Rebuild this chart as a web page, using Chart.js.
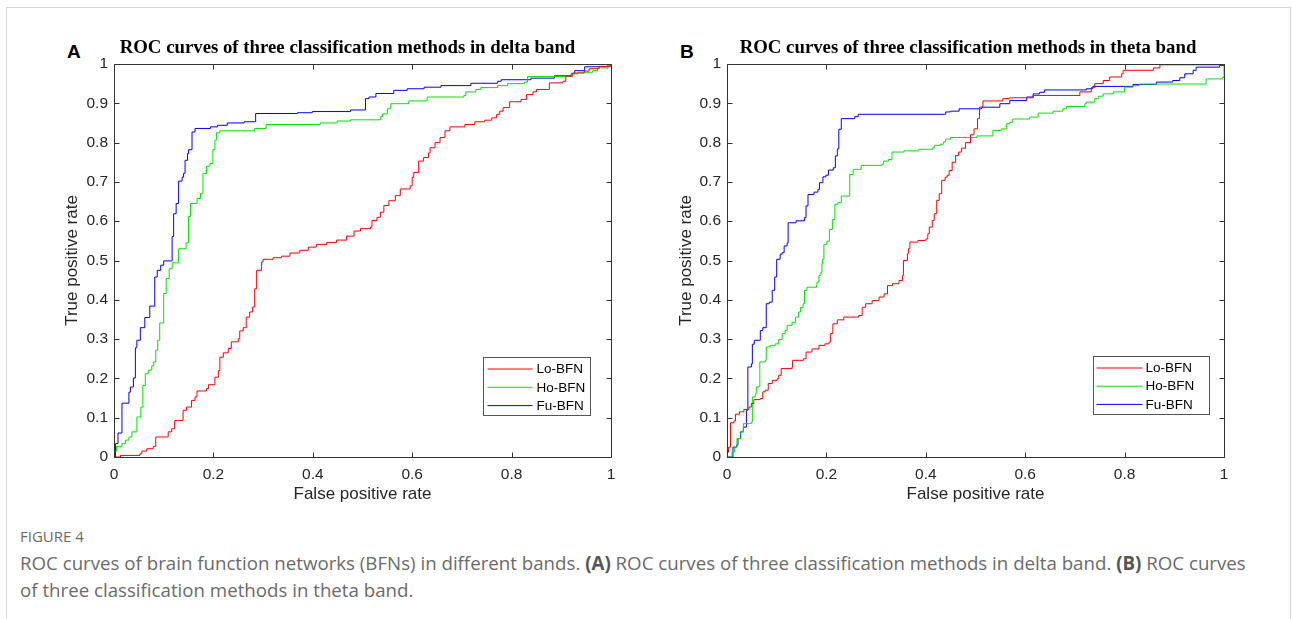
<!DOCTYPE html>
<html>
<head>
<meta charset="utf-8">
<script src="https://cdn.jsdelivr.net/npm/chart.js@4.4.1/dist/chart.umd.min.js"></script>
<style>
  body { margin: 0; background: #fff; overflow: hidden; }
  .frame { position: absolute; left: 6px; top: 7px; width: 1285px; height: 640px; border: 1px solid #d6d6d6; box-sizing: border-box; }
  .panel { position: absolute; }
  .letter { position: absolute; font: bold 19px "Liberation Sans", Arial, sans-serif; color: #000; }
  .fig { position: absolute; left: 20px; top: 526px; font: 15px "Open Sans", sans-serif; color: #6b6b6b; }
  .caption { position: absolute; left: 20px; top: 549px; font: 18.7px "Open Sans", sans-serif; line-height: 27px; color: #6b6b6b; white-space: nowrap; }
  .caption b { color: #555; }
</style>
</head>
<body>
<div class="frame"></div>
<div class="letter" style="left:67px; top:41px;">A</div>
<div class="letter" style="left:680px; top:41px;">B</div>
<div class="panel" style="left:30px; top:26px; width:635px; height:492px;"><canvas id="deltaChart"></canvas></div>
<div class="panel" style="left:650px; top:26px; width:636px; height:492px;"><canvas id="thetaChart"></canvas></div>
<div class="fig">FIGURE 4</div>
<div class="caption">ROC curves of brain function networks (BFNs) in different bands. <b>(A)</b> ROC curves of three classification methods in delta band. <b>(B)</b> ROC curves<br>of three classification methods in theta band.</div>

<script>
// ROC points: [false positive rate, true positive rate]
const methodNames = ['Lo-BFN', 'Ho-BFN', 'Fu-BFN'];
const lineColors = ['#ff0000', '#00e600', '#0000ff'];
const xTicks = [0, 0.2, 0.4, 0.6, 0.8, 1];
const yTicks = [0, 0.1, 0.2, 0.3, 0.4, 0.5, 0.6, 0.7, 0.8, 0.9, 1];

const deltaLo = [[0,0],[0.013,0.004],[0.052,0.008],[0.056,0.015],[0.066,0.021],[0.079,0.027],[0.084,0.051],[0.109,0.064],[0.116,0.072],[0.122,0.093],[0.139,0.119],[0.146,0.127],[0.156,0.144],[0.163,0.153],[0.167,0.168],[0.186,0.174],[0.190,0.184],[0.203,0.203],[0.210,0.220],[0.213,0.254],[0.220,0.265],[0.230,0.276],[0.236,0.293],[0.250,0.301],[0.253,0.321],[0.260,0.329],[0.266,0.356],[0.273,0.369],[0.279,0.382],[0.283,0.428],[0.287,0.475],[0.297,0.496],[0.300,0.503],[0.320,0.507],[0.337,0.511],[0.354,0.519],[0.374,0.526],[0.391,0.534],[0.407,0.541],[0.428,0.546],[0.448,0.552],[0.468,0.562],[0.483,0.575],[0.496,0.581],[0.516,0.585],[0.519,0.602],[0.529,0.610],[0.536,0.623],[0.543,0.640],[0.553,0.652],[0.566,0.665],[0.576,0.682],[0.596,0.690],[0.600,0.711],[0.603,0.724],[0.613,0.753],[0.623,0.762],[0.633,0.774],[0.636,0.787],[0.646,0.800],[0.656,0.813],[0.666,0.830],[0.676,0.840],[0.706,0.846],[0.726,0.853],[0.746,0.857],[0.760,0.863],[0.770,0.872],[0.776,0.880],[0.783,0.889],[0.796,0.904],[0.819,0.910],[0.830,0.922],[0.843,0.929],[0.850,0.935],[0.876,0.952],[0.903,0.956],[0.909,0.969],[0.923,0.977],[0.946,0.982],[0.956,0.988],[0.976,0.994],[1,1]];
const deltaHo = [[0,0],[0.001,0.015],[0.005,0.027],[0.016,0.034],[0.023,0.043],[0.030,0.051],[0.036,0.064],[0.046,0.102],[0.054,0.127],[0.058,0.182],[0.063,0.212],[0.069,0.221],[0.076,0.232],[0.080,0.242],[0.084,0.272],[0.088,0.297],[0.092,0.341],[0.100,0.416],[0.105,0.454],[0.111,0.479],[0.117,0.494],[0.130,0.530],[0.145,0.545],[0.150,0.612],[0.154,0.645],[0.167,0.658],[0.174,0.671],[0.179,0.721],[0.186,0.740],[0.193,0.747],[0.199,0.782],[0.203,0.806],[0.206,0.825],[0.213,0.830],[0.283,0.836],[0.306,0.846],[0.415,0.850],[0.449,0.855],[0.476,0.858],[0.536,0.866],[0.540,0.873],[0.550,0.886],[0.557,0.899],[0.593,0.906],[0.630,0.916],[0.704,0.920],[0.708,0.929],[0.728,0.935],[0.738,0.940],[0.772,0.945],[0.792,0.950],[0.826,0.954],[0.832,0.968],[0.920,0.975],[0.933,0.979],[0.963,0.983],[0.973,0.990],[0.994,0.996],[1,1]];
const deltaFu = [[0,0],[0.003,0.034],[0.008,0.061],[0.016,0.137],[0.030,0.165],[0.033,0.178],[0.039,0.201],[0.043,0.278],[0.046,0.297],[0.053,0.329],[0.062,0.355],[0.072,0.384],[0.082,0.458],[0.087,0.475],[0.094,0.488],[0.100,0.499],[0.117,0.561],[0.120,0.619],[0.125,0.645],[0.130,0.702],[0.137,0.712],[0.140,0.722],[0.143,0.755],[0.148,0.772],[0.150,0.782],[0.157,0.827],[0.163,0.836],[0.194,0.840],[0.208,0.844],[0.228,0.850],[0.262,0.853],[0.285,0.874],[0.369,0.876],[0.399,0.879],[0.476,0.883],[0.506,0.912],[0.513,0.916],[0.527,0.925],[0.563,0.933],[0.590,0.937],[0.624,0.941],[0.658,0.945],[0.718,0.951],[0.772,0.956],[0.779,0.960],[0.839,0.964],[0.886,0.970],[0.920,0.976],[0.927,0.983],[0.947,0.993],[0.994,0.998],[1,1]];

const thetaLo = [[0,0],[0.001,0.012],[0.003,0.025],[0.007,0.087],[0.014,0.092],[0.017,0.109],[0.025,0.115],[0.034,0.121],[0.044,0.127],[0.049,0.136],[0.054,0.146],[0.067,0.149],[0.072,0.166],[0.077,0.170],[0.083,0.187],[0.091,0.195],[0.101,0.199],[0.104,0.208],[0.109,0.225],[0.131,0.229],[0.132,0.246],[0.154,0.250],[0.159,0.267],[0.171,0.275],[0.185,0.284],[0.197,0.288],[0.205,0.292],[0.208,0.314],[0.213,0.339],[0.222,0.349],[0.235,0.356],[0.265,0.360],[0.272,0.381],[0.279,0.390],[0.292,0.398],[0.306,0.407],[0.316,0.415],[0.323,0.436],[0.333,0.441],[0.346,0.449],[0.353,0.462],[0.355,0.500],[0.363,0.517],[0.365,0.530],[0.368,0.547],[0.384,0.551],[0.400,0.555],[0.404,0.568],[0.407,0.585],[0.413,0.602],[0.417,0.619],[0.422,0.653],[0.427,0.670],[0.432,0.704],[0.439,0.712],[0.443,0.717],[0.447,0.729],[0.453,0.750],[0.460,0.767],[0.466,0.776],[0.472,0.786],[0.480,0.800],[0.490,0.820],[0.497,0.835],[0.504,0.861],[0.508,0.890],[0.515,0.906],[0.555,0.912],[0.569,0.914],[0.616,0.920],[0.710,0.929],[0.733,0.940],[0.740,0.950],[0.757,0.958],[0.770,0.967],[0.794,0.975],[0.797,0.984],[0.858,0.990],[0.871,0.998],[1,1]];
const thetaHo = [[0,0],[0.010,0.013],[0.015,0.025],[0.020,0.047],[0.028,0.064],[0.033,0.085],[0.049,0.089],[0.051,0.153],[0.057,0.161],[0.059,0.178],[0.064,0.180],[0.066,0.242],[0.077,0.246],[0.079,0.280],[0.087,0.284],[0.097,0.288],[0.104,0.299],[0.111,0.314],[0.117,0.322],[0.121,0.335],[0.131,0.343],[0.138,0.356],[0.144,0.369],[0.148,0.380],[0.153,0.390],[0.156,0.424],[0.161,0.432],[0.180,0.436],[0.181,0.445],[0.185,0.462],[0.189,0.470],[0.191,0.491],[0.192,0.503],[0.195,0.541],[0.201,0.549],[0.206,0.579],[0.212,0.604],[0.217,0.643],[0.223,0.647],[0.230,0.664],[0.247,0.719],[0.254,0.732],[0.270,0.742],[0.312,0.745],[0.315,0.753],[0.325,0.757],[0.332,0.776],[0.356,0.779],[0.386,0.783],[0.414,0.787],[0.417,0.793],[0.429,0.796],[0.436,0.802],[0.440,0.809],[0.450,0.813],[0.503,0.817],[0.535,0.831],[0.552,0.835],[0.562,0.848],[0.569,0.852],[0.575,0.860],[0.609,0.865],[0.626,0.875],[0.656,0.880],[0.676,0.886],[0.683,0.892],[0.720,0.899],[0.723,0.903],[0.740,0.912],[0.747,0.918],[0.757,0.924],[0.777,0.929],[0.800,0.941],[0.817,0.945],[0.830,0.949],[0.964,0.962],[0.997,0.966],[1,1]];
const thetaFu = [[0,0],[0.012,0.025],[0.019,0.030],[0.022,0.047],[0.027,0.064],[0.033,0.076],[0.039,0.119],[0.042,0.229],[0.049,0.237],[0.051,0.287],[0.055,0.297],[0.067,0.322],[0.072,0.329],[0.079,0.390],[0.085,0.394],[0.091,0.424],[0.096,0.458],[0.100,0.503],[0.107,0.516],[0.111,0.520],[0.115,0.537],[0.121,0.545],[0.123,0.596],[0.139,0.601],[0.156,0.609],[0.159,0.639],[0.163,0.668],[0.175,0.674],[0.183,0.681],[0.186,0.698],[0.193,0.713],[0.199,0.717],[0.204,0.730],[0.214,0.736],[0.218,0.766],[0.222,0.784],[0.225,0.834],[0.230,0.861],[0.257,0.866],[0.264,0.872],[0.437,0.872],[0.440,0.878],[0.450,0.880],[0.467,0.886],[0.512,0.890],[0.549,0.899],[0.569,0.907],[0.603,0.916],[0.616,0.924],[0.629,0.928],[0.639,0.934],[0.723,0.937],[0.736,0.943],[0.817,0.948],[0.864,0.954],[0.897,0.958],[0.911,0.965],[0.921,0.975],[0.938,0.984],[0.944,0.992],[0.991,0.996],[1,1]];

const axisColor = '#333';
const textColor = '#262626';

// MATLAB style box with inward ticks on all four sides
const matlabAxes = {
    id: 'matlabAxes',
    afterDatasetsDraw(chart) {
        const { ctx, chartArea: a, scales } = chart;
        const L = Math.round(a.left) + 0.5, R = Math.round(a.right) + 0.5;
        const T = Math.round(a.top) + 0.5, B = Math.round(a.bottom) + 0.5;
        ctx.save();
        ctx.strokeStyle = axisColor;
        ctx.lineWidth = 1;
        ctx.beginPath();
        ctx.rect(L, T, R - L, B - T);
        scales.x.ticks.forEach(t => {
            const px = Math.round(scales.x.getPixelForValue(t.value)) + 0.5;
            ctx.moveTo(px, B); ctx.lineTo(px, B - 5);
            ctx.moveTo(px, T); ctx.lineTo(px, T + 5);
        });
        scales.y.ticks.forEach(t => {
            const py = Math.round(scales.y.getPixelForValue(t.value)) + 0.5;
            ctx.moveTo(L, py); ctx.lineTo(L + 5, py);
            ctx.moveTo(R, py); ctx.lineTo(R - 5, py);
        });
        ctx.stroke();
        ctx.restore();
    }
};

// bold serif title above the axes, a little left of the axes centre
const panelTitle = {
    id: 'panelTitle',
    afterDraw(chart, args, opts) {
        const { ctx, chartArea: a } = chart;
        ctx.save();
        ctx.font = 'bold 18.8px "Liberation Serif", "Times New Roman", serif';
        ctx.fillStyle = '#000';
        ctx.textAlign = 'center';
        ctx.textBaseline = 'middle';
        ctx.fillText(opts.text, (a.left + a.right) / 2 + opts.dx, opts.y);
        ctx.restore();
    }
};

// legend box in the lower right corner of the axes
const boxLegend = {
    id: 'boxLegend',
    afterDraw(chart, args, opts) {
        const { ctx, chartArea: a } = chart;
        const x = Math.round(a.right - opts.right - opts.width) + 0.5;
        const y = Math.round(a.bottom - opts.bottom - opts.height) + 0.5;
        ctx.save();
        ctx.fillStyle = '#fff';
        ctx.fillRect(x, y, opts.width, opts.height);
        ctx.strokeStyle = '#555';
        ctx.lineWidth = 1;
        ctx.strokeRect(x, y, opts.width, opts.height);
        ctx.font = '13.5px "Liberation Sans", Arial, sans-serif';
        ctx.textBaseline = 'middle';
        chart.data.datasets.forEach((ds, i) => {
            const ry = y + opts.rowTop + i * opts.rowGap;
            ctx.strokeStyle = ds.borderColor;
            ctx.beginPath();
            ctx.moveTo(x + opts.lineStart, ry);
            ctx.lineTo(x + opts.lineEnd, ry);
            ctx.stroke();
            ctx.fillStyle = '#000';
            ctx.fillText(ds.label, x + opts.textX, ry + 0.5);
        });
        ctx.restore();
    }
};

const tickFont = { family: '"Liberation Sans", Arial', size: 15.5 };
const labelFont = { family: '"Liberation Sans", Arial', size: 17 };

const makeRocChart = (canvasId, titleText, titleDx, series, yWidth, yTitlePad, rightPad, legendOpts) => {
    const ctx = document.getElementById(canvasId).getContext('2d');
    return new Chart(ctx, {
        type: 'scatter',
        data: {
            datasets: series.map((pts, i) => ({
                label: methodNames[i],
                data: pts.map(p => ({ x: p[0], y: p[1] })),
                showLine: true,
                stepped: 'before',
                borderColor: lineColors[i],
                borderWidth: 1,
                pointRadius: 0,
                fill: false,
                clip: false
            }))
        },
        options: {
            responsive: true,
            maintainAspectRatio: false,
            animation: false,
            layout: { padding: { left: 0, right: rightPad, top: 38, bottom: 0 } },
            scales: {
                x: {
                    type: 'linear',
                    min: 0, max: 1,
                    afterBuildTicks: s => { s.ticks = xTicks.map(v => ({ value: v })); },
                    afterFit: s => { s.height = 61; },
                    grid: { display: false, drawTicks: false },
                    border: { display: false },
                    ticks: { color: textColor, padding: 8, font: tickFont, callback: v => String(+v.toFixed(1)) },
                    title: { display: true, text: 'False positive rate', color: textColor, padding: { top: 0, bottom: 13 }, font: labelFont }
                },
                y: {
                    type: 'linear',
                    min: 0, max: 1,
                    afterBuildTicks: s => { s.ticks = yTicks.map(v => ({ value: v })); },
                    afterFit: s => { s.width = yWidth; },
                    grid: { display: false, drawTicks: false },
                    border: { display: false },
                    ticks: { color: textColor, padding: 6, font: tickFont, callback: v => String(+v.toFixed(1)) },
                    title: { display: true, text: 'True positive rate', color: textColor, padding: { top: yTitlePad, bottom: 0 }, font: labelFont }
                }
            },
            plugins: {
                legend: { display: false },
                tooltip: { enabled: false },
                title: { display: false },
                panelTitle: { text: titleText, dx: titleDx, y: 22 },
                boxLegend: legendOpts
            }
        },
        plugins: [matlabAxes, panelTitle, boxLegend]
    });
};

makeRocChart('deltaChart', 'ROC curves of three classification methods in delta band', -15,
    [deltaLo, deltaHo, deltaFu], 84, 32, 54,
    { right: 21, bottom: 42, width: 107, height: 58, rowTop: 11.5, rowGap: 18.3, lineStart: 4, lineEnd: 49, textX: 53 });

makeRocChart('thetaChart', 'ROC curves of three classification methods in theta band', -7.5,
    [thetaLo, thetaHo, thetaFu], 77, 26, 62,
    { right: 15, bottom: 43, width: 116, height: 58, rowTop: 11.5, rowGap: 18.2, lineStart: 3, lineEnd: 49, textX: 52 });
</script>
</body>
</html>
